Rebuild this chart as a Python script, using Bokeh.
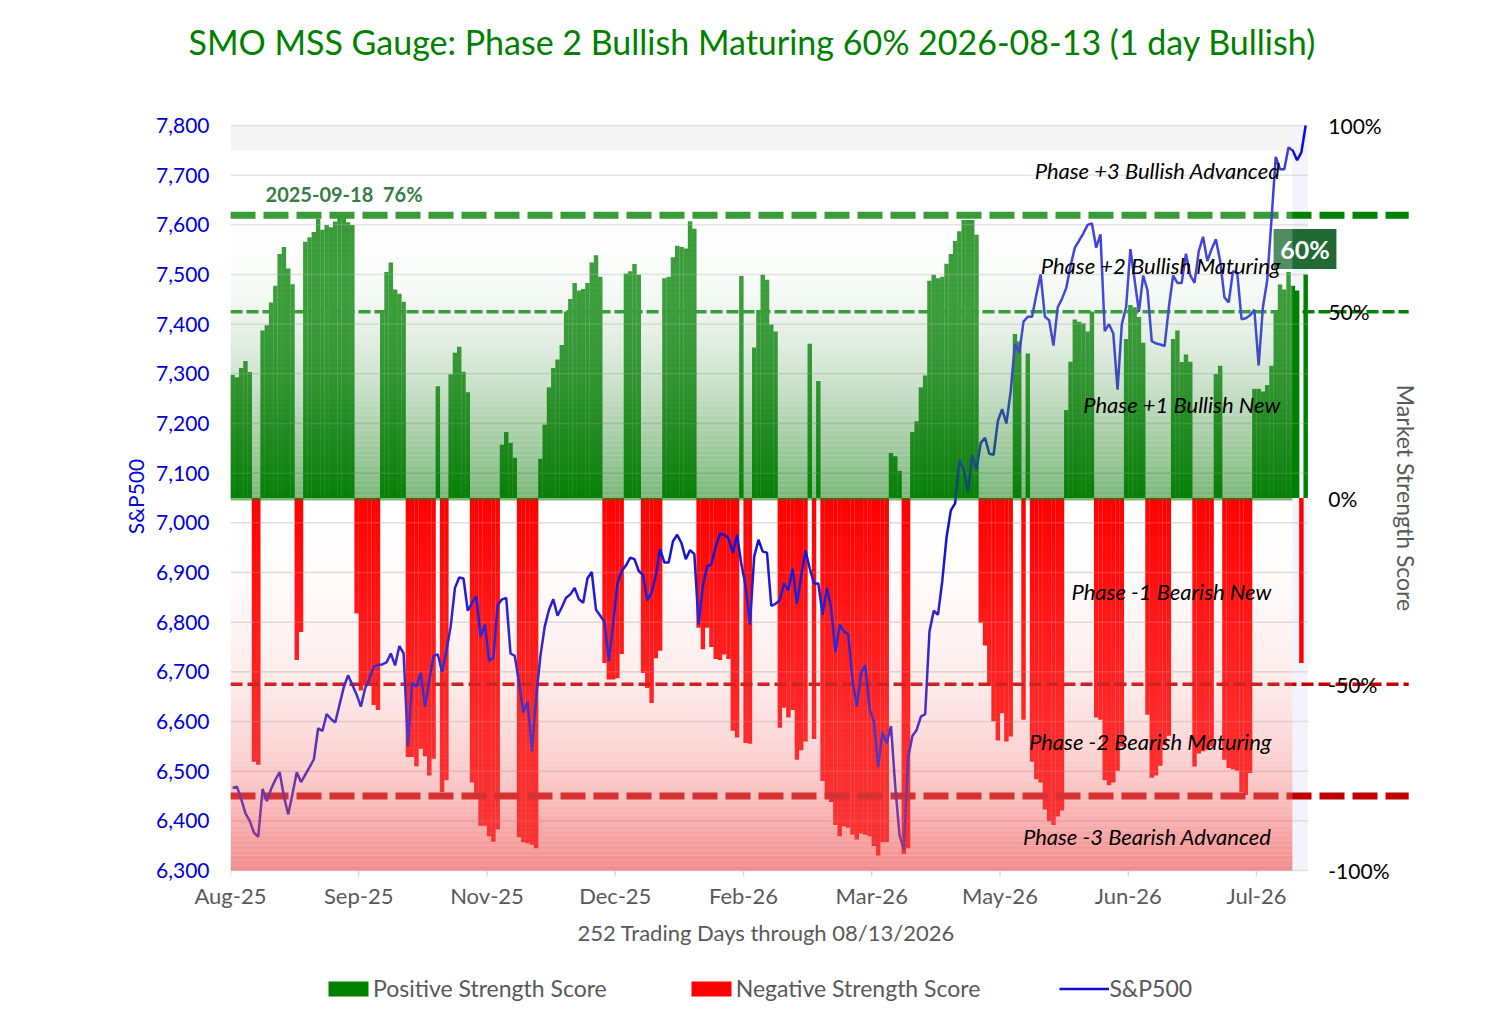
import numpy as np
from bokeh.plotting import figure
from bokeh.layouts import column
from bokeh.models import (Range1d, FixedTicker, NumeralTickFormatter, Legend,
                          LegendItem, ColumnDataSource, Title)
from bokeh.core.properties import value
from bokeh.embed import file_html
from bokeh.resources import INLINE

# ---------------- data ----------------
strength = [
    33, 32.4, 34.9, 36.8, 33.8,
    -70.8, -71.6,
    45, 46.4, 52.5, 57, 65.5, 67.4, 61.6, 57.4,
    -43.5, -36,
    68.8, 70, 71.4, 74.9, 72, 73.3, 72.7, 74.2, 75.9, 75.3, 74, 73.3,
    -31, -51.7, -50.4, -49.7, -55.6, -56.9,
    50.5, 60.7, 63.2, 56, 54.8, 52.7,
    -69.5, -69.5, -72, -67.3, -69.3, -74.5, -70,
    30,
    -79, -75.8,
    33.2, 39, 40.6, 33.9, 28.4,
    -76.4, -79.7, -88, -88, -90.8, -92.3, -89,
    14.3, 17.7, 14.8, 10.8,
    -91.1, -92.4, -92.7, -93.1, -94,
    10.5, 19.7, 29.7, 34.9, 37.2, 41.1, 50.1, 53.4, 57.7, 55.7, 56.1, 57.7, 63.2, 65.2, 59.4,
    -44.3, -48.7, -48.7, -48.4, -41.9,
    60.3, 60.9, 62.8, 59.9,
    -47, -51, -55, -43, -41,
    59, 59.4, 64.6, 67.7, 67.4, 67, 74.3, 72.3,
    -34.8, -40.6, -34.8, -40, -43.2, -43.5, -42, -43.2, -62.5, -64.3,
    59.6,
    -65.8, -66,
    40.4, 50.5, 59.9, 58.6, 46.6, 44.7,
    -61.7, -56.3, -58.9, -56.9, -70.3, -67.7, -65.4,
    41.4,
    -64.7,
    31.4,
    -76, -79.7, -81.6, -87.8, -90.8, -88.2, -88.5, -90.4, -91.7, -90.1, -90.4, -90.8, -93.4, -96, -92.4, -92.4,
    12.1, 11.2, 7.3,
    -95.6, -94,
    17.7, 20.6, 29.7, 32.9, 58.3, 59.9, 59, 59.4, 62.9, 65.5, 69, 71.6, 74.6, 74.6, 74.6, 70.7,
    -33.5, -39.6, -50.4, -59.9, -65.1, -57.8, -65.4, -64,
    44, 42,
    -59.5,
    38.8,
    -70.8, -75.5, -76.4, -83.6, -86.8, -87.8, -85.5, -83.9,
    23.6, 36.6, 47.9, 47.3, 46.9, 44.7, 50.1,
    -58.9, -59.5, -75.8, -77.1, -76.4, -73.2, -66.7,
    42.7, 51.8, 51.2, 48.6, 41.7,
    -58.2, -75.1, -74.5, -71.9, -66.4, -63.8,
    42.7, 45, 36.5, 38.5, 36.6,
    -72.1, -68.6, -68, -67.6, -66.7,
    33.3, 35.5,
    -70.3, -72.5, -72.9, -73.2, -79, -79.7, -73.8,
    29.3, 29.3, 28.6, 30.3, 35.5, 50.5, 57.3, 56, 60.7, 57, 55.7,
    -44.3,
    60,
]

sp500 = [
    6466, 6469, 6444, 6415, 6400, 6376, 6368, 6464, 6440, 6464,
    6483, 6498, 6449, 6413, 6454, 6498, 6478, 6493, 6508, 6524,
    6586, 6581, 6615, 6605, 6598, 6634, 6669, 6693, 6674, 6654,
    6630, 6667, 6686, 6710, 6714, 6715, 6719, 6737, 6713, 6752,
    6737, 6550, 6678, 6670, 6698, 6630, 6683, 6732, 6735, 6700,
    6742, 6791, 6869, 6890, 6888, 6823, 6839, 6852, 6771, 6795,
    6722, 6729, 6834, 6846, 6849, 6737, 6732, 6678, 6618, 6640,
    6540, 6649, 6732, 6791, 6825, 6846, 6813, 6830, 6849, 6856,
    6869, 6846, 6839, 6888, 6901, 6825, 6813, 6800, 6722, 6795,
    6878, 6903, 6914, 6930, 6927, 6903, 6895, 6844, 6859, 6895,
    6947, 6920, 6920, 6963, 6976, 6959, 6927, 6945, 6937, 6795,
    6873, 6912, 6917, 6952, 6978, 6976, 6969, 6939, 6976, 6917,
    6873, 6795, 6932, 6966, 6942, 6940, 6833, 6837, 6844, 6878,
    6864, 6908, 6837, 6893, 6944, 6908, 6878, 6878, 6815, 6869,
    6830, 6739, 6795, 6781, 6776, 6683, 6630, 6698, 6713, 6625,
    6600, 6508, 6579, 6556, 6591, 6469, 6371, 6342, 6527, 6571,
    6583, 6610, 6615, 6781, 6823, 6815, 6883, 6971, 7025, 7039,
    7127, 7107, 7063, 7137, 7107, 7161, 7171, 7139, 7137, 7205,
    7229, 7200, 7265, 7361, 7342, 7405, 7415, 7415, 7459, 7500,
    7415, 7408, 7357, 7434, 7451, 7473, 7517, 7554, 7568, 7583,
    7600, 7603, 7554, 7581, 7386, 7400, 7381, 7268, 7400, 7434,
    7551, 7488, 7425, 7498, 7468, 7366, 7361, 7359, 7356, 7434,
    7498, 7483, 7483, 7542, 7498, 7483, 7547, 7576, 7527, 7551,
    7571, 7527, 7454, 7444, 7507, 7503, 7410, 7412, 7418, 7429,
    7317, 7434, 7488, 7610, 7737, 7712, 7712, 7756, 7749, 7730,
    7746, 7800,
]

tick_days = [0, 30, 60, 90, 120, 150, 180, 210, 240]
tick_labels = ["Aug-25", "Sep-25", "Nov-25", "Dec-25", "Feb-26", "Mar-26",
               "May-26", "Jun-26", "Jul-26"]
sp_ticks = list(range(6300, 7801, 100))
pct_ticks = [100, 50, 0, -50, -100]
pct_tick_labels = ["100%", "50%", "0%", "-50%", "-100%"]
max_date = "2025-09-18"
title_text = "SMO MSS Gauge: Phase 2 Bullish Maturing 60% 2026-08-13 (1 day Bullish)"
x_title = "252 Trading Days through 08/13/2026"
legend_labels = ["Positive Strength Score", "Negative Strength Score", "S&P500"]
phase_labels = ["Phase +3 Bullish Advanced", "Phase +2 Bullish Maturing",
                "Phase +1 Bullish New", "Phase -1 Bearish New",
                "Phase -2 Bearish Maturing", "Phase -3 Bearish Advanced"]
phase_levels = [87.8, 62.3, 25.0, -25.0, -65.5, -91.0]

FONT = "Lato"
GREEN = "#008000"
RED = "#ff0000"
DKRED = "#c00000"
BLUE = "#0c0cd6"
W = 1494
FL, FW = 230, 1192   # frame left / width (shared by the aligned strips)

n = len(strength)
s = np.array(strength, dtype=float)
xc = np.arange(n) + 0.5
pos = s >= 0
neg = ~pos
max_val = float(s.max())
last_val = float(s[-1])

X_END = 278.83       # frame spans 0..X_END days
PLOT_END = float(n)  # gridlines end
OVL_END = 248.4      # gradient image end
DASH_END = 275.6
PAD_T, PAD_B = 13, 10
SPK = 1500.0 / 745.0
PCK = 200.0 / 745.0


def strip(frame_h, top, bottom):
    f = figure(frame_width=FW, frame_height=frame_h,
               x_range=Range1d(0, 1), y_range=Range1d(0, 1),
               output_backend="svg", toolbar_location=None,
               min_border_left=FL, min_border_right=W - FL - FW,
               min_border_top=top, min_border_bottom=bottom,
               x_axis_location=None, y_axis_location=None,
               background_fill_color="white", border_fill_color="white")
    f.outline_line_color = None
    f.grid.visible = False
    return f


# ---------------- title strip ----------------
pt = strip(1, 0, 99)
pt.add_layout(Title(text=title_text, align="left", offset=-42, text_font=FONT,
                    text_font_size="34px", text_font_style="normal",
                    text_color=GREEN, standoff=35), "below")

# ---------------- main chart ----------------
p = figure(frame_width=FW, frame_height=745 + PAD_T + PAD_B,
           x_range=Range1d(0, X_END),
           y_range=Range1d(6300 - PAD_B * SPK, 7800 + PAD_T * SPK),
           output_backend="svg", toolbar_location=None,
           min_border_left=FL, min_border_right=W - FL - FW,
           min_border_top=12, min_border_bottom=75,
           background_fill_color="white", border_fill_color="white")
p.extra_y_ranges = {"pct": Range1d(-100 - PAD_B * PCK, 100 + PAD_T * PCK)}
p.outline_line_color = None
p.grid.visible = False

ya = p.yaxis[0]
ya.ticker = FixedTicker(ticks=sp_ticks)
ya.formatter = NumeralTickFormatter(format="0,0")
ya.axis_label = "S&P500"
ya.axis_line_color = None
ya.major_tick_line_color = None
ya.minor_tick_line_color = None
ya.major_label_standoff = 15
ya.major_label_text_font = FONT
ya.major_label_text_font_size = "21px"
ya.major_label_text_color = "#0000dd"
ya.axis_label_text_font = FONT
ya.axis_label_text_font_size = "21px"
ya.axis_label_text_font_style = "normal"
ya.axis_label_text_color = "#0000dd"
ya.axis_label_standoff = 5

xa = p.xaxis[0]
xa.ticker = FixedTicker(ticks=tick_days)
xa.major_label_overrides = {d: lab for d, lab in zip(tick_days, tick_labels)}
xa.axis_line_color = None
xa.major_tick_line_color = None
xa.minor_tick_line_color = None
xa.major_tick_in = 0
xa.major_tick_out = 0
xa.major_label_standoff = 1
xa.major_label_text_font = FONT
xa.major_label_text_font_size = "22px"
xa.major_label_text_color = "#595959"

xt = Title(text=x_title, align="left", offset=347, text_font=FONT,
           text_font_size="22px", text_font_style="normal",
           text_color="#595959", standoff=10)
p.add_layout(xt, "below")

# background pieces
p.quad(left=0, right=OVL_END, bottom=93.3, top=100, y_range_name="pct",
       fill_color="#f2f2f2", line_color=None)
p.quad(left=OVL_END, right=PLOT_END, bottom=-100, top=100, y_range_name="pct",
       fill_color="#f3f3fb", line_color=None)
p.segment(x0=0, x1=PLOT_END, y0=sp_ticks, y1=sp_ticks,
          line_color="#d9d9d9", line_width=1.5)
p.segment(x0=tick_days, x1=tick_days, y0=[6300] * len(tick_days),
          y1=[6300 - 6 * SPK] * len(tick_days),
          line_color="#d9d9d9", line_width=1.5)

# bars
pos_r = p.vbar(x=xc[pos], top=s[pos], bottom=0, width=1.04, y_range_name="pct",
               fill_color=GREEN, line_color=None)
neg_r = p.vbar(x=xc[neg], top=0, bottom=s[neg], width=1.04, y_range_name="pct",
               fill_color=RED, line_color=None)
p.segment(x0=0, x1=PLOT_END, y0=sp_ticks, y1=sp_ticks,
          line_color="white", line_alpha=0.15, line_width=1.5)

# threshold lines
p.segment(x0=0, x1=DASH_END, y0=max_val, y1=max_val, y_range_name="pct",
          line_color=GREEN, line_width=7, line_dash="25 8")
p.segment(x0=0, x1=DASH_END, y0=50, y1=50, y_range_name="pct",
          line_color=GREEN, line_width=3.5, line_dash="12 4")
p.segment(x0=0, x1=DASH_END, y0=-50, y1=-50, y_range_name="pct",
          line_color=DKRED, line_width=3.5, line_dash="12 5")
p.segment(x0=0, x1=DASH_END, y0=-80, y1=-80, y_range_name="pct",
          line_color=DKRED, line_width=7, line_dash="25 8")

# current value box
p.quad(left=244.0, right=258.7, bottom=61.5, top=72.2, y_range_name="pct",
       fill_color="#206b34", line_color=None)

# S&P line
line_r = p.line(xc, sp500, line_color=BLUE, line_width=2.5)

# gradient overlay (5px strips)
stops_pos = [(0, (14, 128, 14, 0.55)), (20, (80, 155, 80, 0.45)),
             (40, (160, 200, 160, 0.35)), (60, (235, 245, 235, 0.26)),
             (76, (255, 255, 255, 0.22)), (100, (255, 255, 255, 0.18))]
stops_neg = [(-100, (238, 80, 80, 0.66)), (-75, (245, 120, 120, 0.40)),
             (-50, (250, 160, 160, 0.22)), (-20, (255, 205, 205, 0.07)),
             (0, (255, 255, 255, 0.0))]


def interp(stops, v):
    xs = [a for a, _ in stops]
    return [float(np.interp(v, xs, [c[k] for _, c in stops])) for k in range(4)]


edges = np.linspace(-100, 100, 150)
bots, tops, cols, alps = [], [], [], []
for b, t in zip(edges[:-1], edges[1:]):
    mid = 0.5 * (b + t)
    r, g, bl, a = interp(stops_pos if mid >= 0 else stops_neg, mid)
    bots.append(b)
    tops.append(t)
    cols.append("#%02x%02x%02x" % (int(r), int(g), int(bl)))
    alps.append(a)
ovl = ColumnDataSource(dict(bottom=bots, top=tops, color=cols, alpha=alps))
p.quad(left=0, right=OVL_END, bottom="bottom", top="top", source=ovl,
       y_range_name="pct", fill_color="color", fill_alpha="alpha", line_color=None)

# texts
NB = "\u00a0"
p.text(x=[8.2], y=[81.6], text=["%s%s%s%d%%" % (max_date, NB, NB, round(max_val))],
       y_range_name="pct", text_font=value(FONT), text_font_size="20px",
       text_font_style="bold", text_color="#387d46", text_align="left",
       text_baseline="middle")
p.text(x=[245.6] * 3 + [243.5] * 3, y=phase_levels, text=phase_labels,
       y_range_name="pct", text_font=value(FONT), text_font_size="22px",
       text_font_style="italic", text_color="black", text_align="right",
       text_baseline="middle")
p.text(x=[251.35], y=[66.8], text=["%d%%" % round(last_val)], y_range_name="pct",
       text_font=value(FONT), text_font_size="25px", text_font_style="bold",
       text_color="white", text_align="center", text_baseline="middle")
p.text(x=[256.8] * len(pct_ticks), y=pct_ticks, text=pct_tick_labels,
       y_range_name="pct", text_font=value(FONT), text_font_size="21px",
       text_color="black", text_align="left", text_baseline="middle")
p.text(x=[274.9], y=[0], text=["Market Strength Score"], y_range_name="pct",
       angle=-np.pi / 2, text_font=value(FONT), text_font_size="23px",
       text_color="#595959", text_align="center", text_baseline="middle")

# ---------------- legend strip ----------------
pl = strip(60, 0, 0)
# legend swatches only (placed far outside the visible range of this strip)
lg_pos = pl.vbar(x=[-100], top=[-10], bottom=[-11], width=1, fill_color=GREEN,
                 line_color=None)
lg_neg = pl.vbar(x=[-100], top=[-10], bottom=[-11], width=1, fill_color=RED,
                 line_color=None)
lg_line = pl.line(x=[-100, -99], y=[-10, -10], line_color=BLUE, line_width=2.5)
legend = Legend(items=[LegendItem(label=legend_labels[0], renderers=[lg_pos]),
                       LegendItem(label=legend_labels[1], renderers=[lg_neg]),
                       LegendItem(label=legend_labels[2], renderers=[lg_line])],
                orientation="horizontal", location=(93, 13),
                label_text_font=FONT, label_text_font_size="23px",
                label_text_color="#595959", glyph_width=50, glyph_height=19,
                spacing=79, label_standoff=0, border_line_color=None,
                background_fill_alpha=0, padding=0, margin=0)
pl.add_layout(legend, "center")

layout = column(pt, p, pl, spacing=0)
open("out.html", "w").write(file_html(layout, INLINE))
